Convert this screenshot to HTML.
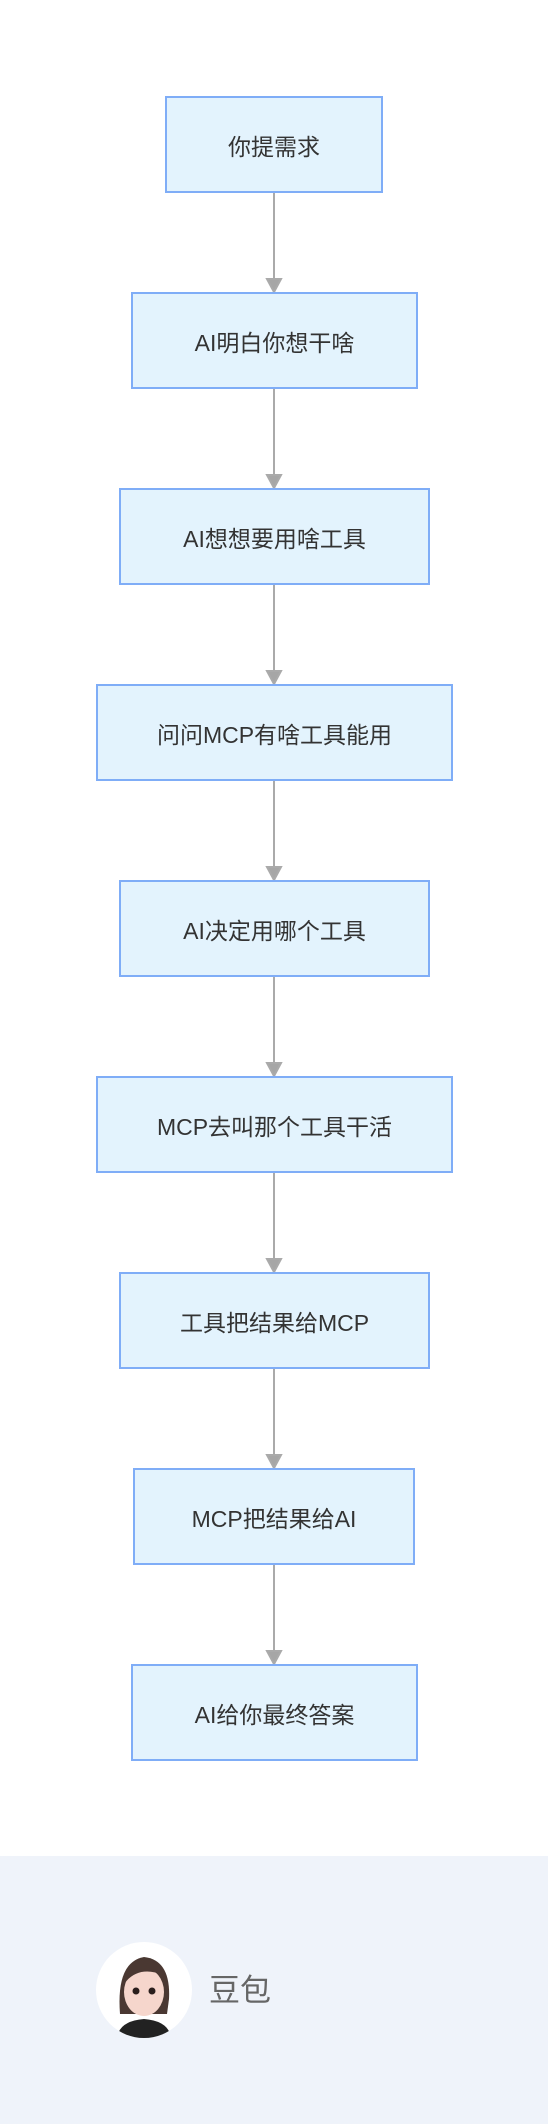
<!DOCTYPE html>
<html><head><meta charset="utf-8"><style>
html,body{margin:0;padding:0;background:#fff;}
body{width:548px;height:2124px;position:relative;overflow:hidden;font-family:"Liberation Sans","Noto Sans CJK SC",sans-serif;}
.b{position:absolute;box-sizing:border-box;height:97px;background:#e3f3fd;border:2px solid #7fadf7;display:flex;align-items:center;justify-content:center;font-size:23px;color:#333;}
.foot{position:absolute;left:0;top:1856px;width:548px;height:268px;background:#eff3fa;}
.av{position:absolute;left:96px;top:1942px;width:96px;height:96px;border-radius:50%;background:#fff;overflow:hidden;}
.nm{position:absolute;left:209px;top:1973px;font-size:31px;line-height:36px;color:#666;font-family:"Liberation Sans","Noto Sans CJK SC",sans-serif;}
</style></head><body>
<svg width="548" height="1860" style="position:absolute;left:0;top:0">
<g stroke="#aaa" stroke-width="2" fill="#a6a6a6">
<line x1="274" y1="192" x2="274" y2="280"/><polygon points="267,279 281,279 274,292"/>
<line x1="274" y1="388" x2="274" y2="476"/><polygon points="267,475 281,475 274,488"/>
<line x1="274" y1="584" x2="274" y2="672"/><polygon points="267,671 281,671 274,684"/>
<line x1="274" y1="780" x2="274" y2="868"/><polygon points="267,867 281,867 274,880"/>
<line x1="274" y1="976" x2="274" y2="1064"/><polygon points="267,1063 281,1063 274,1076"/>
<line x1="274" y1="1172" x2="274" y2="1260"/><polygon points="267,1259 281,1259 274,1272"/>
<line x1="274" y1="1368" x2="274" y2="1456"/><polygon points="267,1455 281,1455 274,1468"/>
<line x1="274" y1="1564" x2="274" y2="1652"/><polygon points="267,1651 281,1651 274,1664"/>
</g></svg>
<div class="b" style="left:165px;width:218px;top:96px">你提需求</div>
<div class="b" style="left:131px;width:287px;top:292px">AI明白你想干啥</div>
<div class="b" style="left:119px;width:311px;top:488px">AI想想要用啥工具</div>
<div class="b" style="left:96px;width:357px;top:684px">问问MCP有啥工具能用</div>
<div class="b" style="left:119px;width:311px;top:880px">AI决定用哪个工具</div>
<div class="b" style="left:96px;width:357px;top:1076px">MCP去叫那个工具干活</div>
<div class="b" style="left:119px;width:311px;top:1272px">工具把结果给MCP</div>
<div class="b" style="left:133px;width:282px;top:1468px">MCP把结果给AI</div>
<div class="b" style="left:131px;width:287px;top:1664px">AI给你最终答案</div>
<div class="foot"></div>
<div class="av"><svg width="96" height="96">
<path d="M24 72 Q20 20 48 15 Q75 18 73 57 L71 72 Z" fill="#4a3832"/>
<ellipse cx="48" cy="50" rx="20" ry="24" fill="#f6d6cc"/>
<path d="M28 42 Q42 23 67 33 Q63 18 48 17 Q29 20 28 42Z" fill="#4a3832"/>
<circle cx="40" cy="49" r="3.5" fill="#2a1e1c"/><circle cx="56" cy="49" r="3.5" fill="#2a1e1c"/>
<path d="M21 96 Q23 79 48 77 Q73 79 75 96Z" fill="#222"/>
</svg></div>
<div class="nm">豆包</div>
</body></html>
